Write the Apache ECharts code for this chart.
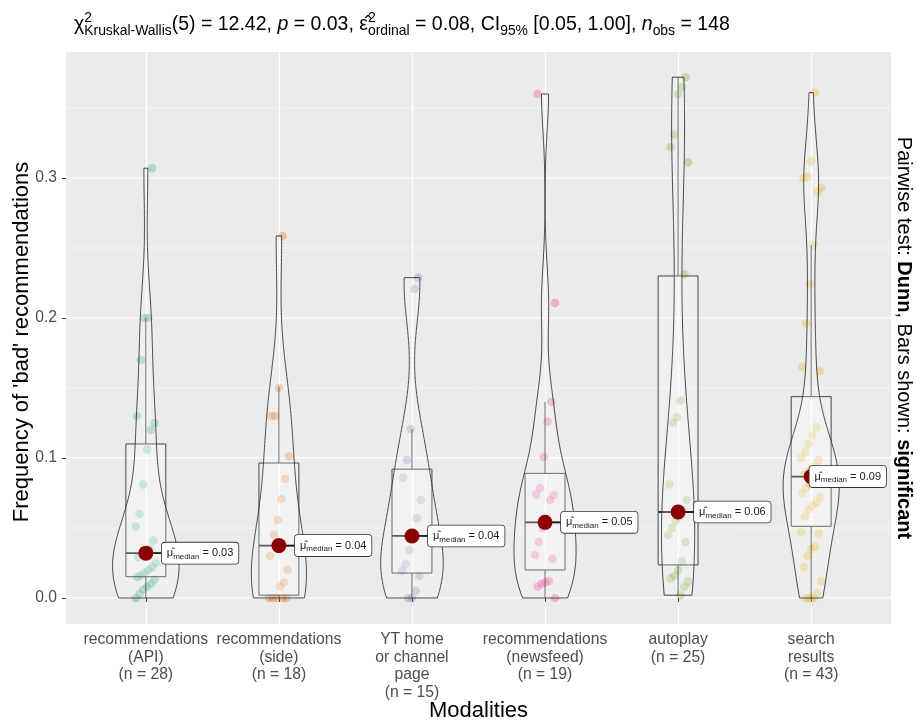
<!DOCTYPE html>
<html>
<head>
<meta charset="utf-8">
<title>Frequency of 'bad' recommendations by modality</title>
<script src="https://cdn.jsdelivr.net/npm/echarts@6.0.0/dist/echarts.min.js"></script>
<style>
  html, body { margin: 0; padding: 0; background: #ffffff; }
  #chart { width: 917px; height: 721px; }
</style>
</head>
<body>
<div id="chart"></div>
<script>
// ---- data -------------------------------------------------------------
const categories = [
  'recommendations\n(API)',
  'recommendations\n(side)',
  'YT home\nor channel\npage',
  'recommendations\n(newsfeed)',
  'autoplay',
  'search\nresults'
];

// observed frequency of 'bad' recommendations, one value per observation
const apiValues = [0.0, 0.003, 0.006, 0.008, 0.01, 0.013, 0.015, 0.016, 0.018, 0.02, 0.022, 0.025, 0.029, 0.031,
  0.033, 0.035, 0.041, 0.051, 0.06, 0.081, 0.106, 0.12, 0.125, 0.13, 0.17, 0.20, 0.20, 0.307];
const sideValues = [0, 0, 0, 0, 0, 0.008, 0.011, 0.02, 0.03, 0.045, 0.0557, 0.0707, 0.085, 0.101, 0.13, 0.13, 0.15, 0.2586];
const homeValues = [0, 0, 0.005, 0.0157, 0.0195, 0.0243, 0.0343, 0.0443, 0.057, 0.07, 0.086, 0.0986, 0.1207, 0.2207, 0.2288];
const newsfeedValues = [0, 0.008, 0.01, 0.011, 0.012, 0.028, 0.0307, 0.04, 0.05, 0.055, 0.07, 0.0736, 0.074, 0.0786,
  0.1007, 0.126, 0.14, 0.2107, 0.36];
const autoplayValues = [0.002, 0.008, 0.012, 0.014, 0.016, 0.02, 0.026, 0.04, 0.045, 0.05, 0.055, 0.058, 0.063, 0.07,
  0.081, 0.125, 0.129, 0.141, 0.231, 0.311, 0.322, 0.331, 0.36, 0.365, 0.372];
const searchValues = [0, 0, 0, 0.0036, 0.012, 0.022, 0.03, 0.035, 0.0367, 0.046, 0.047,
  0.058, 0.063, 0.066, 0.068, 0.072, 0.075, 0.0786, 0.081, 0.083, 0.085, 0.0867,
  0.088, 0.09, 0.092, 0.094, 0.0986, 0.1, 0.1045, 0.11, 0.116, 0.122,
  0.162, 0.165, 0.196, 0.224, 0.252, 0.29, 0.293, 0.30, 0.301, 0.312, 0.361];

// box summaries per modality
const whiskerLow  = [0, 0, 0, 0, 0.002, 0];
const boxQ1       = [0.0152, 0.002, 0.0178, 0.020, 0.0236, 0.0512];
const medians     = [0.032, 0.0374, 0.0443, 0.054, 0.0614, 0.0867];
const boxQ3       = [0.110, 0.0964, 0.092, 0.089, 0.230, 0.1438];
const whiskerHigh = [0.20, 0.151, 0.1207, 0.14, 0.372, 0.252];

const yMajorTicks = [0, 0.1, 0.2, 0.3];
const yMinorTicks = [0.05, 0.15, 0.25, 0.35];
const yRange = [-0.0186, 0.39];

// ---- look -------------------------------------------------------------
const palette = ['#1B9E77', '#D95F02', '#7570B3', '#E7298A', '#66A61E', '#E6AB02'];
const FONT = '"Liberation Sans", Arial, Helvetica, sans-serif';
const PANEL = { left: 66, right: 891, top: 52, bottom: 624 };
const unit = (PANEL.right - PANEL.left) / (categories.length + 0.2);

const groups = [apiValues, sideValues, homeValues, newsfeedValues, autoplayValues, searchValues];

const measureCtx = document.createElement('canvas').getContext('2d');
function textWidth(text, size, weight, style) {
  measureCtx.font = (style || 'normal') + ' ' + (weight || 'normal') + ' ' + size + 'px ' + FONT;
  return measureCtx.measureText(text).width;
}

// ---- kernel density for the violins (gaussian, nrd0 bandwidth, trimmed) --
function quantile7(sorted, p) {
  const h = (sorted.length - 1) * p;
  const lo = Math.floor(h);
  const hi = Math.min(lo + 1, sorted.length - 1);
  return sorted[lo] + (h - lo) * (sorted[hi] - sorted[lo]);
}
function bandwidthNrd0(vals) {
  const n = vals.length;
  const mean = vals.reduce((a, b) => a + b, 0) / n;
  const sd = Math.sqrt(vals.reduce((a, b) => a + (b - mean) * (b - mean), 0) / (n - 1));
  const s = vals.slice().sort((a, b) => a - b);
  const iqr = quantile7(s, 0.75) - quantile7(s, 0.25);
  let lo = Math.min(sd, iqr / 1.34);
  if (!(lo > 0)) lo = sd || Math.abs(s[0]) || 1;
  return 0.9 * lo * Math.pow(n, -0.2);
}
function densityProfile(vals, steps) {
  const bw = bandwidthNrd0(vals);
  const lo = Math.min.apply(null, vals), hi = Math.max.apply(null, vals);
  const norm = 1 / (vals.length * bw * Math.sqrt(2 * Math.PI));
  const out = [];
  for (let k = 0; k < steps; k++) {
    const y = lo + (hi - lo) * k / (steps - 1);
    let d = 0;
    for (const v of vals) { const z = (y - v) / bw; d += Math.exp(-0.5 * z * z); }
    out.push([y, d * norm]);
  }
  return out;
}
const profiles = groups.map(g => densityProfile(g, 256));
const densityPeak = Math.max.apply(null, profiles.map(p => Math.max.apply(null, p.map(q => q[1]))));

// ---- helpers ----------------------------------------------------------
function catStep(api) { return api.coord([1, 0])[0] - api.coord([0, 0])[0]; }

const LABEL_MAIN = 11, LABEL_SUB = 8, LABEL_PAD = [3, 5, 3, 5];
function medianLabelWidth(text) {
  return LABEL_PAD[1] + LABEL_PAD[3] + textWidth('μ̂', LABEL_MAIN) + textWidth('median', LABEL_SUB) + textWidth(text, LABEL_MAIN);
}

// ---- title (with sub/superscripts) --------------------------------------
const TF = 19.5, TS = 13.9;
const titleRuns = [
  { t: 'χ', size: TF },
  { t: '2', size: TS, dy: -8 },
  { t: 'Kruskal-Wallis', size: TS, dy: 5, stack: true },
  { t: '(5) = 12.42, ', size: TF },
  { t: 'p', size: TF, italic: true },
  { t: ' = 0.03, ', size: TF },
  { t: 'ε̂', size: TF },
  { t: '2', size: TS, dy: -8 },
  { t: 'ordinal', size: TS, dy: 5, stack: true },
  { t: ' = 0.08, CI', size: TF },
  { t: '95%', size: TS, dy: 5 },
  { t: ' [0.05, 1.00], ', size: TF },
  { t: 'n', size: TF, italic: true },
  { t: 'obs', size: TS, dy: 5 },
  { t: ' = 148', size: TF }
];
const titleElements = [];
(function layoutTitle() {
  let cursor = 74, lastStart = cursor, lastW = 0;
  const baseline = 31;
  titleRuns.forEach(r => {
    const style = r.italic ? 'italic' : 'normal';
    const w = textWidth(r.t, r.size, 'normal', style);
    let x;
    if (r.stack) {
      x = lastStart;
      lastW = Math.max(lastW, w);
      cursor = lastStart + lastW;
    } else {
      x = cursor; lastStart = x; lastW = w; cursor = x + w;
    }
    titleElements.push({
      type: 'text', x: x, y: baseline + (r.dy || 0) - 0.35 * r.size, silent: true,
      style: { text: r.t, fontSize: r.size, fontFamily: FONT, fontStyle: style, fill: '#000000',
               align: 'left', verticalAlign: 'middle' }
    });
  });
})();

// ---- chart ------------------------------------------------------------
const chart = echarts.init(document.getElementById('chart'), null, { renderer: 'canvas' });

const pointData = [];
groups.forEach((g, gi) => g.forEach((v, k) => pointData.push([gi, v, k])));

const option = {
  animation: false,
  backgroundColor: '#ffffff',
  textStyle: { fontFamily: FONT },
  grid: [
    { left: PANEL.left, top: PANEL.top, width: PANEL.right - PANEL.left, height: PANEL.bottom - PANEL.top,
      show: true, backgroundColor: '#EBEBEB', borderWidth: 0, z: 0 },
    { left: PANEL.left + 0.6 * unit, top: PANEL.top, width: (categories.length - 1) * unit,
      height: PANEL.bottom - PANEL.top, show: false }
  ],
  xAxis: [
    { gridIndex: 0, type: 'value', min: 0.4, max: categories.length + 0.6, show: false },
    { gridIndex: 1, type: 'category', data: categories, boundaryGap: false, z: 1,
      axisLine: { show: false },
      axisTick: { show: true, length: 4, lineStyle: { color: '#333333', width: 1 } },
      axisLabel: { interval: 0, color: '#4D4D4D', fontSize: 15.7, lineHeight: 17.5, margin: 7, fontFamily: FONT,
        formatter: (v, i) => v + '\n(n = ' + groups[i].length + ')' },
      splitLine: { show: true, lineStyle: { color: '#FFFFFF', width: 1.2 } } }
  ],
  yAxis: [
    { gridIndex: 0, type: 'value', min: yRange[0], max: yRange[1], z: 1,
      axisLine: { show: false },
      axisTick: { show: true, length: 4, customValues: yMajorTicks, lineStyle: { color: '#333333', width: 1 } },
      axisLabel: { customValues: yMajorTicks, formatter: v => v.toFixed(1), color: '#4D4D4D', fontSize: 15.7,
        margin: 9, fontFamily: FONT },
      splitLine: { show: false } },
    { gridIndex: 1, type: 'value', min: yRange[0], max: yRange[1], show: false }
  ],
  graphic: titleElements.concat([
    { type: 'text', x: 22, y: (PANEL.top + PANEL.bottom) / 2 + 4, rotation: Math.PI / 2, silent: true,
      style: { text: "Frequency of 'bad' recommendations", fontSize: 22, fontFamily: FONT, fill: '#000000',
               align: 'center', verticalAlign: 'middle' } },
    { type: 'text', x: (PANEL.left + PANEL.right) / 2, y: 711, silent: true,
      style: { text: 'Modalities', fontSize: 22, fontFamily: FONT, fill: '#000000',
               align: 'center', verticalAlign: 'middle' } },
    { type: 'text', x: 904, y: (PANEL.top + PANEL.bottom) / 2, rotation: -Math.PI / 2, silent: true,
      style: {
        text: '{n|Pairwise test: }{b|Dunn}{n|, Bars shown: }{b|significant}',
        align: 'center', verticalAlign: 'middle',
        rich: {
          n: { fontSize: 20, fontFamily: FONT, fill: '#000000' },
          b: { fontSize: 20, fontFamily: FONT, fontWeight: 'bold', fill: '#000000' }
        }
      } }
  ]),
  series: [
    // horizontal grid lines (major and minor)
    {
      type: 'custom', xAxisIndex: 0, yAxisIndex: 0, silent: true, z: 1,
      data: yMajorTicks.map(v => [1, v, 1]).concat(yMinorTicks.map(v => [1, v, 0])),
      renderItem: (params, api) => {
        const y = api.value(1), major = api.value(2) === 1;
        const a = api.coord([0.4, y]), b = api.coord([categories.length + 0.6, y]);
        return { type: 'line', shape: { x1: a[0], y1: a[1], x2: b[0], y2: b[1] },
                 style: { stroke: '#FFFFFF', lineWidth: major ? 1.2 : 0.55 } };
      }
    },
    // jittered observations
    {
      type: 'custom', xAxisIndex: 1, yAxisIndex: 1, silent: true, z: 2,
      data: pointData,
      renderItem: (params, api) => {
        const gi = api.value(0), v = api.value(1), k = api.value(2);
        const p = api.coord([gi, v]);
        const step = catStep(api);
        const jitter = (((k * 37 + gi * 11) % 17) / 16 - 0.5) * 0.15 * step;
        return { type: 'circle', shape: { cx: p[0] + jitter, cy: p[1], r: 4.3 },
                 style: { fill: palette[gi], opacity: 0.3 } };
      }
    },
    // boxes and whiskers
    {
      type: 'custom', xAxisIndex: 1, yAxisIndex: 1, silent: true, z: 3,
      data: categories.map((c, i) => [i, whiskerLow[i], boxQ1[i], medians[i], boxQ3[i], whiskerHigh[i]]),
      renderItem: (params, api) => {
        const i = api.value(0);
        const step = catStep(api);
        const cx = api.coord([i, 0])[0];
        const yLo = api.coord([i, api.value(1)])[1];
        const yQ1 = api.coord([i, api.value(2)])[1];
        const yMed = api.coord([i, api.value(3)])[1];
        const yQ3 = api.coord([i, api.value(4)])[1];
        const yHi = api.coord([i, api.value(5)])[1];
        const hw = 0.15 * step;
        const stroke = { stroke: '#333333', lineWidth: 0.9 };
        return { type: 'group', children: [
          { type: 'line', shape: { x1: cx, y1: yQ3, x2: cx, y2: yHi }, style: stroke },
          { type: 'line', shape: { x1: cx, y1: yQ1, x2: cx, y2: yLo }, style: stroke },
          { type: 'rect', shape: { x: cx - hw, y: yQ3, width: 2 * hw, height: yQ1 - yQ3 },
            style: { fill: 'rgba(255,255,255,0.2)', stroke: '#333333', lineWidth: 0.9 } },
          { type: 'line', shape: { x1: cx - hw, y1: yMed, x2: cx + hw, y2: yMed },
            style: { stroke: '#333333', lineWidth: 1.8 } }
        ] };
      }
    },
    // violins
    {
      type: 'custom', xAxisIndex: 1, yAxisIndex: 1, silent: true, z: 4,
      data: categories.map((c, i) => [i, medians[i]]),
      renderItem: (params, api) => {
        const i = api.value(0);
        const step = catStep(api);
        const cx = api.coord([i, 0])[0];
        const prof = profiles[i];
        const right = prof.map(q => [cx + q[1] / densityPeak * 0.25 * step, api.coord([i, q[0]])[1]]);
        const left = prof.slice().reverse().map(q => [cx - q[1] / densityPeak * 0.25 * step, api.coord([i, q[0]])[1]]);
        return { type: 'polygon', shape: { points: right.concat(left) },
                 style: { fill: 'rgba(255,255,255,0.2)', stroke: '#333333', lineWidth: 0.9 } };
      }
    },
    // medians with labels
    {
      type: 'custom', xAxisIndex: 1, yAxisIndex: 1, silent: true, z: 5,
      data: medians.map((m, i) => [i, m]),
      renderItem: (params, api) => {
        const i = api.value(0), m = api.value(1);
        const p = api.coord([i, m]);
        const step = catStep(api);
        const panelRight = api.coord([categories.length - 1, 0])[0] + 0.6 * step;
        const valueText = ' = ' + m.toFixed(2);
        const lw = medianLabelWidth(valueText);
        const lx = Math.min(p[0] + 16, panelRight - 5 - lw);
        const children = [];
        if (lx > p[0]) {
          children.push({ type: 'line', shape: { x1: p[0], y1: p[1], x2: lx, y2: p[1] },
                          style: { stroke: '#1A1A1A', lineWidth: 1.6 } });
        }
        children.push({ type: 'circle', shape: { cx: p[0], cy: p[1], r: 7.5 }, style: { fill: '#8B0000' } });
        children.push({
          type: 'text', x: lx, y: p[1],
          style: {
            text: '{m|μ̂}{s|median}{m|' + valueText + '}',
            align: 'left', verticalAlign: 'middle',
            backgroundColor: '#FFFFFF', borderColor: '#333333', borderWidth: 0.8, borderRadius: 3,
            padding: LABEL_PAD,
            rich: {
              m: { fontSize: LABEL_MAIN, fontFamily: FONT, fill: '#1A1A1A', lineHeight: 15 },
              s: { fontSize: LABEL_SUB, fontFamily: FONT, fill: '#1A1A1A', lineHeight: 9, verticalAlign: 'bottom' }
            }
          }
        });
        return { type: 'group', children: children };
      }
    }
  ]
};

chart.setOption(option);
</script>
</body>
</html>
